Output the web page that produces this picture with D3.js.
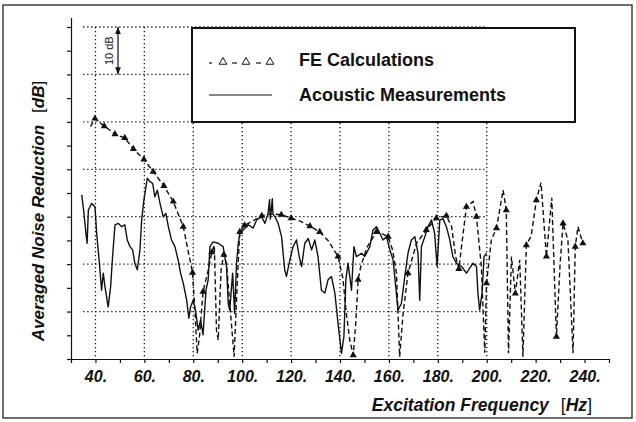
<!DOCTYPE html>
<html>
<head>
<meta charset="utf-8">
<script src="https://cdn.jsdelivr.net/npm/d3@7.9.0/dist/d3.min.js"></script>
<style>
  body { margin: 0; background: #fff; }
  svg { display: block; font-family: 'Liberation Sans', Arial, sans-serif; }
  .axis path, .axis line { stroke: #111; stroke-width: 1.2; }
  .grid line { stroke: #111; stroke-width: 1.3; stroke-dasharray: 1.3 2.7; }
</style>
</head>
<body>
<div id="chart"></div>
<script>
// frequency ticks (Hz) and labels
const xTicks = d3.range(30, 251, 10);
const xLabels = [40, 60, 80, 100, 120, 140, 160, 180, 200, 220, 240];
const yTicks = d3.range(0, 71, 5);
const gridFreqs = [40, 60, 80, 100, 120, 140, 160, 180, 200];
const gridLevels = [10, 20, 30, 40, 50, 60, 70];

// FE calculations: [Hz, dB above plot floor, marker?]
const feCalc = [
  [38, 49, 0], [39.8, 50.7, 1], [43.6, 49.1, 1], [48, 47.4, 1], [52, 46.6, 1],
  [55.5, 44.3, 1], [59.8, 42.1, 1], [63.6, 39.5, 1], [68, 36.5, 1], [71.8, 33.2, 1],
  [75.9, 27.9, 1], [79.7, 18.2, 1], [80.6, 11, 0], [81.6, 1.2, 0], [82.6, 5, 0],
  [84, 14.2, 1], [86, 18.5, 0], [87.6, 22.5, 1], [88.6, 24, 0], [89.5, 6, 0],
  [90.2, 4, 0], [91.4, 19, 0], [92.5, 22, 1], [93.6, 20, 0], [95.2, 10, 0],
  [96.7, 0.5, 0], [97.8, 14, 0], [99, 26.8, 1], [101, 28.2, 1], [104, 29, 0],
  [108, 30.2, 1], [112, 30.6, 0], [116, 30.4, 1], [120, 29.7, 1], [124, 29, 0],
  [127.7, 28, 1], [131.7, 26.8, 1], [135.1, 25, 0], [139.2, 21.6, 1], [141.2, 17, 0],
  [142.5, 10, 0], [144, 4, 0], [145.4, 0.8, 1], [146.5, 8, 0], [147.4, 16.7, 1],
  [148.5, 19.5, 0], [151, 23.5, 0], [154.9, 26.8, 1], [157, 26.5, 0], [159.7, 25.8, 1],
  [161.5, 23, 0], [163.1, 18.1, 0], [164.4, 0.5, 0], [165.8, 9.6, 0], [167.8, 18.1, 1],
  [171.3, 24.4, 0], [175.3, 27.2, 1], [179.4, 29.7, 1], [183.5, 30.2, 1], [185.6, 28, 0],
  [187.3, 21.6, 0], [188.6, 19, 1], [190, 25, 0], [191.7, 32.1, 1], [194.4, 33.2, 0],
  [195.8, 30, 1], [197.8, 19.5, 0], [199.2, 1.3, 0], [199.9, 16, 1], [201.9, 25.1, 0],
  [204, 27.6, 1], [206.7, 35.6, 0], [208, 31.4, 1], [208.9, 1.2, 0], [210.1, 21.6, 0],
  [211.7, 13.8, 1], [213.5, 20.9, 0], [214.8, 0.5, 0], [216.2, 24, 1], [218.2, 26, 0],
  [220.3, 33.5, 1], [222.2, 37.2, 0], [224.4, 21.6, 1], [226.6, 34, 0], [228.5, 4.7, 1],
  [230, 20, 0], [231.2, 28.6, 1], [233.2, 25.1, 0], [235.3, 1.2, 0], [236.2, 23.7, 1],
  [237.3, 27.9, 0], [239.3, 24.4, 1]
];

// acoustic measurements: [Hz, dB]
const measured = [
  [34.4, 34.6], [35.3, 30.7], [36.1, 26.5], [36.6, 24.4], [37.1, 31.4], [38.4, 32.8],
  [39.8, 32.1], [40.5, 26.5], [41.6, 20.2], [42.5, 14.5], [43.2, 18.1], [43.9, 15.2],
  [45.2, 11], [46.2, 15.2], [47, 21.6], [48, 28.3], [49.3, 28.6], [50.7, 27.9],
  [52, 28.3], [53, 25.1], [54.1, 23.7], [55.2, 23], [56.1, 20.2], [57.1, 18.8],
  [58.2, 23], [58.9, 29.3], [59.8, 33.5], [61.2, 38.1], [62.3, 37.4], [63.4, 37],
  [64.3, 34.2], [65.3, 35.6], [66.4, 32.8], [67.7, 30], [68.8, 30.7], [69.8, 27.9],
  [71.1, 25.1], [72.5, 23.7], [73.8, 20.9], [74.8, 18.1], [75.9, 16], [77.3, 12.4],
  [78.2, 8.6], [78.9, 11], [80, 12.4], [81.1, 9.6], [82, 6.1], [83, 8.2],
  [84, 5.1], [85.2, 14.5], [86.1, 16.7], [86.8, 23.7], [88.1, 24.7], [90.2, 24.4],
  [92.2, 23.7], [93.6, 19.5], [94.3, 11.7], [94.9, 10.3], [96.1, 18.1], [96.9, 9.6],
  [97.7, 20.2], [98.4, 24.4], [99.1, 26.5], [100.4, 27.2], [102.5, 28.3], [104.5, 27.6],
  [105.9, 29.3], [107.9, 30], [109.3, 28.6], [110.6, 30.7], [111.2, 33.6], [111.5, 29.5],
  [112, 31.8], [112.3, 33.8], [112.6, 30.5], [113.4, 30], [114.7, 28.6], [116.1, 25.8],
  [117.4, 18.8], [118.1, 17.4], [119.5, 20.9], [120.8, 23.7], [122.2, 25.1], [123.3, 21.6],
  [124.3, 19.5], [125.6, 24.4], [127, 25.4], [128.4, 23], [129.7, 25.1], [131, 21.6],
  [132.4, 14.5], [133.8, 13.9], [135.1, 16.7], [136.5, 17.4], [137.9, 13.9], [139.2, 7.5],
  [140.6, 1.2], [141.6, 4.7], [142.4, 16.7], [143.3, 20.2], [144.7, 14.5], [145.7, 23.7],
  [146.7, 21.6], [148.8, 22.3], [150.1, 21.6], [152.2, 23.7], [153.5, 27.2], [154.9, 27.9],
  [156.3, 26.5], [157.6, 25.1], [159, 25.8], [160.4, 23], [161.7, 20.9], [162.8, 15.2],
  [163.7, 10.3], [165.1, 11.7], [166.5, 17.4], [167.8, 22.3], [169.2, 25.1], [170.6, 25.8],
  [171.9, 22.3], [172.6, 12.4], [173.3, 23.7], [174.7, 25.8], [176, 27.9], [177.4, 29.3],
  [178.7, 26.5], [179.7, 19.5], [180.8, 29.3], [182.1, 29.6], [183.5, 27.9], [184.9, 25.1],
  [186.2, 21.5], [187.6, 20.2], [189.7, 19.5], [191.7, 18.1], [193, 19.1], [194.4, 20.2],
  [195.8, 19.5], [196.4, 13.9], [197.1, 10.3], [198.1, 13.9], [198.9, 21.6], [199.9, 22.3]
];

const width = 636;
const height = 422;

const svg = d3.select('#chart').append('svg')
  .attr('width', width)
  .attr('height', height);

const x = d3.scaleLinear().domain([30, 250]).range([71, 609]);
const y = d3.scaleLinear().domain([0, 72]).range([359, 17.5]);

// outer frame
svg.append('rect')
  .attr('x', 3).attr('y', 5)
  .attr('width', 629).attr('height', 413)
  .attr('fill', 'none')
  .attr('stroke', '#333')
  .attr('stroke-width', 1.4);

// dotted grid
const grid = svg.append('g').attr('class', 'grid');
grid.selectAll('line.h')
  .data(gridLevels)
  .join('line')
  .attr('class', 'h')
  .attr('x1', x(35)).attr('x2', x(200))
  .attr('y1', (d) => y(d)).attr('y2', (d) => y(d));
grid.selectAll('line.v')
  .data(gridFreqs)
  .join('line')
  .attr('class', 'v')
  .attr('x1', (d) => x(d)).attr('x2', (d) => x(d))
  .attr('y1', y(70)).attr('y2', y(0));

// axes
svg.append('g')
  .attr('class', 'axis')
  .attr('transform', `translate(0,${y(0)})`)
  .call(d3.axisBottom(x)
    .tickValues(xTicks)
    .tickSize(4)
    .tickSizeOuter(0)
    .tickPadding(8)
    .tickFormat((d) => (xLabels.includes(d) ? d + '.' : '')))
  .call((g) => g.selectAll('text')
    .attr('font-size', 16)
    .attr('font-weight', 'bold')
    .attr('font-style', 'italic')
    .attr('font-family', "'Liberation Sans', Arial, sans-serif")
    .attr('fill', '#111'));

svg.append('g')
  .attr('class', 'axis')
  .attr('transform', `translate(${x(30)},0)`)
  .call(d3.axisLeft(y)
    .tickValues(yTicks)
    .tickSize(4)
    .tickSizeOuter(0)
    .tickFormat(''));

// series
const line = d3.line().x((d) => x(d[0])).y((d) => y(d[1]));

svg.append('path')
  .datum(measured)
  .attr('fill', 'none')
  .attr('stroke', '#111')
  .attr('stroke-width', 1.4)
  .attr('stroke-linejoin', 'round')
  .attr('d', line);

svg.append('path')
  .datum(feCalc)
  .attr('fill', 'none')
  .attr('stroke', '#111')
  .attr('stroke-width', 1.4)
  .attr('stroke-dasharray', '5 3')
  .attr('d', line);

const tri = d3.symbol().type(d3.symbolTriangle).size(22);
svg.append('g')
  .selectAll('path')
  .data(feCalc.filter((d) => d[2]))
  .join('path')
  .attr('transform', (d) => `translate(${x(d[0])},${y(d[1])})`)
  .attr('d', tri)
  .attr('fill', '#111');

// legend
const legend = svg.append('g');
legend.append('rect')
  .attr('x', 192).attr('y', 28)
  .attr('width', 383).attr('height', 94)
  .attr('fill', '#fff')
  .attr('stroke', '#111')
  .attr('stroke-width', 2);

const openTri = d3.symbol().type(d3.symbolTriangle).size(26);
legend.selectAll('path.sym')
  .data([223, 246, 270])
  .join('path')
  .attr('class', 'sym')
  .attr('transform', (d) => `translate(${d},62)`)
  .attr('d', openTri)
  .attr('fill', 'none')
  .attr('stroke', '#111')
  .attr('stroke-width', 1);
legend.selectAll('line.dash')
  .data([[209, 212], [232, 237], [256, 261]])
  .join('line')
  .attr('class', 'dash')
  .attr('x1', (d) => d[0]).attr('x2', (d) => d[1])
  .attr('y1', 63).attr('y2', 63)
  .attr('stroke', '#111')
  .attr('stroke-width', 1.2);
legend.append('line')
  .attr('x1', 209).attr('x2', 272)
  .attr('y1', 95).attr('y2', 95)
  .attr('stroke', '#111')
  .attr('stroke-width', 1.2);

legend.selectAll('text')
  .data([['FE Calculations', 66], ['Acoustic Measurements', 101]])
  .join('text')
  .attr('x', 299)
  .attr('y', (d) => d[1])
  .attr('font-size', 18)
  .attr('font-weight', 'bold')
  .attr('fill', '#111')
  .text((d) => d[0]);

// 10 dB scale marker
const ann = svg.append('g');
svg.append('defs').append('marker')
  .attr('id', 'arr')
  .attr('viewBox', '0 0 10 10')
  .attr('refX', 10).attr('refY', 5)
  .attr('markerWidth', 6).attr('markerHeight', 6)
  .attr('orient', 'auto-start-reverse')
  .append('path')
  .attr('d', 'M0,1 L10,5 L0,9 Z')
  .attr('fill', '#111');
ann.append('line')
  .attr('x1', 118).attr('x2', 118)
  .attr('y1', y(70)).attr('y2', y(60))
  .attr('stroke', '#111')
  .attr('stroke-width', 1.2)
  .attr('marker-start', 'url(#arr)')
  .attr('marker-end', 'url(#arr)');
ann.append('text')
  .attr('transform', `translate(113,${(y(70) + y(60)) / 2}) rotate(-90)`)
  .attr('text-anchor', 'middle')
  .attr('font-size', 11)
  .attr('fill', '#111')
  .text('10 dB');

// axis titles
const yTitle = svg.append('text')
  .attr('transform', 'translate(44,211) rotate(-90)')
  .attr('text-anchor', 'middle')
  .attr('font-size', 17)
  .attr('font-weight', 'bold')
  .attr('font-style', 'italic')
  .attr('fill', '#111');
yTitle.append('tspan').text('Averaged Noise Reduction');
yTitle.append('tspan').attr('dx', 12).attr('font-weight', 'normal').attr('font-style', 'normal').text('[');
yTitle.append('tspan').text('dB');
yTitle.append('tspan').attr('font-weight', 'normal').attr('font-style', 'normal').text(']');

const xTitle = svg.append('text')
  .attr('x', 592)
  .attr('y', 411)
  .attr('text-anchor', 'end')
  .attr('font-size', 17.5)
  .attr('font-weight', 'bold')
  .attr('font-style', 'italic')
  .attr('fill', '#111');
xTitle.append('tspan').text('Excitation Frequency');
xTitle.append('tspan').attr('dx', 12).attr('font-weight', 'normal').attr('font-style', 'normal').text('[');
xTitle.append('tspan').text('Hz');
xTitle.append('tspan').attr('font-weight', 'normal').attr('font-style', 'normal').text(']');
</script>
</body>
</html>
